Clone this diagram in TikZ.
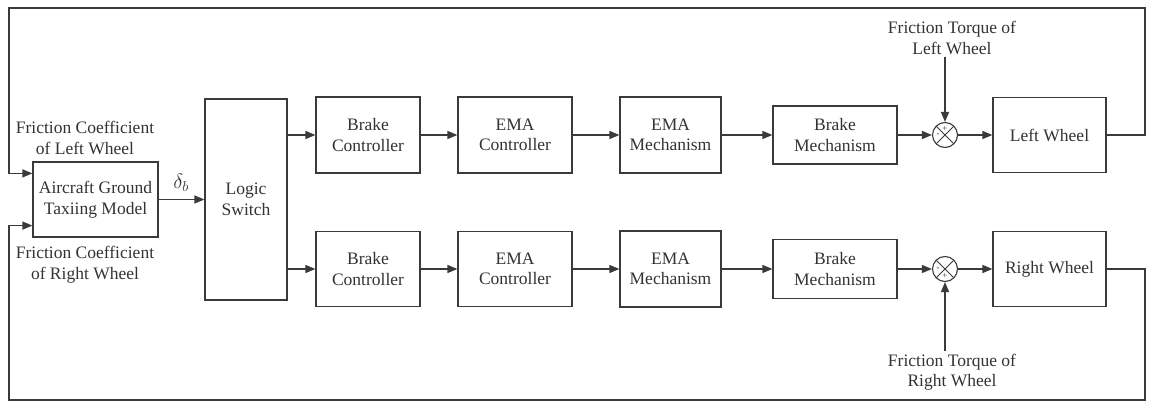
\documentclass[tikz,border=0pt]{standalone}
\usepackage{fontspec}
\setmainfont{Liberation Serif}
\usetikzlibrary{arrows.meta,calc}
\definecolor{lc}{HTML}{3A3A3A}
\definecolor{tc}{HTML}{333333}
\begin{document}
\begin{tikzpicture}[x=1pt,y=-1pt,
  blk/.style={draw=lc, line width=1.2pt, fill=white, inner sep=0pt, align=center,
              font=\fontsize{17.5}{20.5}\selectfont, text=tc},
  lbl/.style={align=center, inner sep=0pt, font=\fontsize{17.5}{20.5}\selectfont, text=tc},
  conn/.style={draw=lc, line width=1.3pt},
  arr/.style={conn, -{Triangle[length=10pt,width=8pt]}},
  sumj/.style={circle, draw=lc, line width=1.1pt, minimum size=25pt, inner sep=0pt,
               path picture={\draw[lc, line width=1pt]
                 (path picture bounding box.north west) -- (path picture bounding box.south east)
                 (path picture bounding box.north east) -- (path picture bounding box.south west);}},
  sgn/.style={inner sep=0pt, font=\fontsize{9}{9}\selectfont, text=tc}]
\useasboundingbox (0,0) rectangle (1154,411);

% blocks
\node[blk, minimum width=125pt, minimum height=75pt] (agm) at (95.5,199.5) {Aircraft Ground\\Taxiing Model};
\node[blk, minimum width=82pt, minimum height=201pt] (logic) at (246,199.5) {Logic\\Switch};

\node[blk, minimum width=104pt, minimum height=76pt] (bc1) at (368,135) {Brake\\Controller};
\node[blk, minimum width=114pt, minimum height=76pt] (ec1) at (515,135) {EMA\\Controller};
\node[blk, minimum width=101pt, minimum height=76pt] (em1) at (670.5,135) {EMA\\Mechanism};
\node[blk, minimum width=124pt, minimum height=58pt] (bm1) at (835,135) {Brake\\Mechanism};
\node[sumj] (s1) at (945,135) {};
\node[blk, minimum width=113pt, minimum height=75pt] (lw) at (1049.5,135) {Left Wheel};

\node[blk, minimum width=104pt, minimum height=75pt] (bc2) at (368,269) {Brake\\Controller};
\node[blk, minimum width=114pt, minimum height=75pt] (ec2) at (515,269) {EMA\\Controller};
\node[blk, minimum width=101pt, minimum height=76pt] (em2) at (670.5,269) {EMA\\Mechanism};
\node[blk, minimum width=124pt, minimum height=59pt] (bm2) at (835,269) {Brake\\Mechanism};
\node[sumj] (s2) at (945,269) {};
\node[blk, minimum width=113pt, minimum height=75pt] (rw) at (1049.5,269) {Right Wheel};

% signs
\node[sgn] (s1p) at ($(s1.center)+(0,-6.5)$) {+};
\node[sgn] (s1m) at ($(s1.center)+(-7,0)$) {-};
\node[sgn] (s2m) at ($(s2.center)+(-7,0)$) {-};
\node[sgn] (s2p) at ($(s2.center)+(0,6.5)$) {+};

% labels
\node[lbl] (fcl) at (85,138) {Friction Coefficient\\of Left Wheel};
\node[lbl] (fcr) at (85,264.5) {Friction Coefficient\\of Right Wheel};
\node[lbl] (tql) at (952,38) {Friction Torque of\\Left Wheel};
\node[lbl] (tqr) at (952,372) {Friction Torque of\\Right Wheel};
\node[inner sep=0pt, text=tc, font=\fontsize{20}{20}\selectfont] (delta) at (181,183) {$\delta_b$};

% feedback corner coordinates
\coordinate (tr) at (1145,8);
\coordinate (tl) at (9,8);
\coordinate (br) at (1145,400);
\coordinate (bl) at (9,400);

% connectors
\draw[arr] (agm.east |- logic.west) -- (logic.west);
\draw[arr] (logic.east |- bc1.west) -- (bc1.west);
\draw[arr] (logic.east |- bc2.west) -- (bc2.west);
\draw[arr] (bc1) -- (ec1);
\draw[arr] (ec1) -- (em1);
\draw[arr] (em1) -- (bm1);
\draw[arr] (bm1) -- (s1);
\draw[arr] (s1) -- (lw);
\draw[arr] (bc2) -- (ec2);
\draw[arr] (ec2) -- (em2);
\draw[arr] (em2) -- (bm2);
\draw[arr] (bm2) -- (s2);
\draw[arr] (s2) -- (rw);
\draw[arr] (s1.north |- tql.south) ++(0,2) -- (s1.north);
\draw[arr] (s2.south |- tqr.north) ++(0,-2) -- (s2.south);
\draw[arr] (lw.east) -| (tr) -| (tl) |- ($(agm.north west)+(0,12)$);
\draw[arr] (rw.east) -| (br) -| (bl) |- ($(agm.south west)+(0,-12)$);
\end{tikzpicture}
\end{document}
